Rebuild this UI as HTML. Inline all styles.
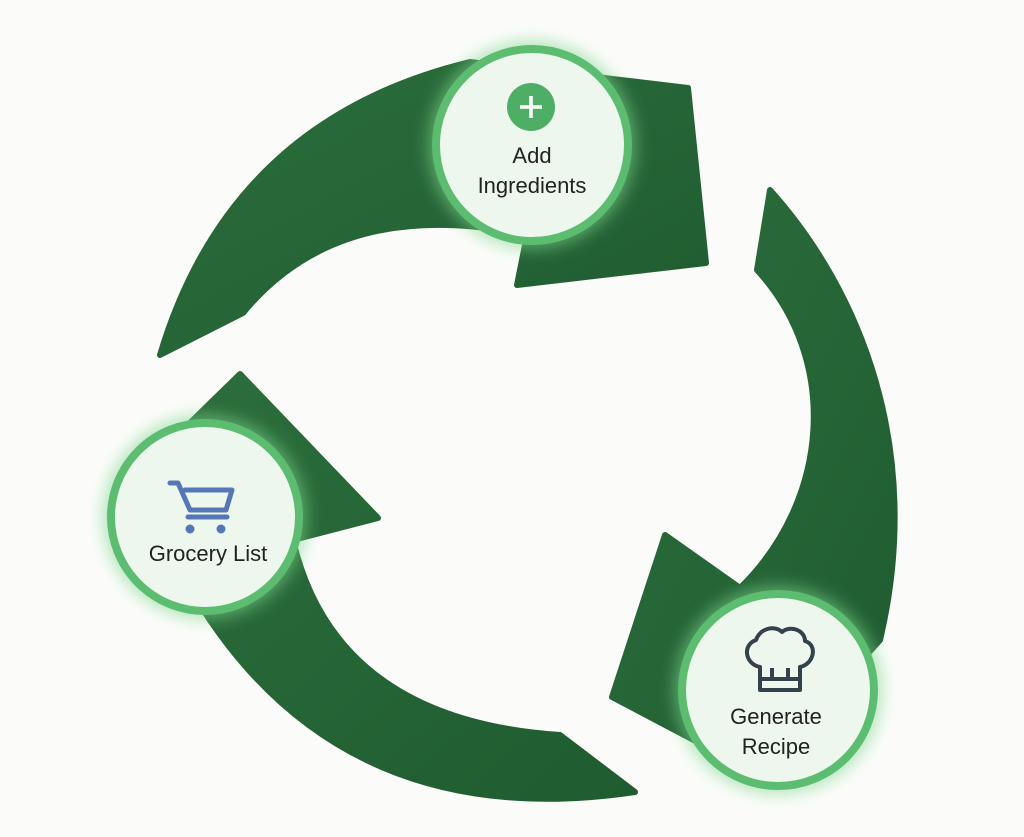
<!DOCTYPE html>
<html><head><style>
html,body{margin:0;padding:0;background:#fbfcf9;}
svg{display:block}
text{font-family:"Liberation Sans",sans-serif;fill:#222;}
</style></head><body>
<svg width="1024" height="837" viewBox="0 0 1024 837">
<defs>
<filter id="g" x="-30%" y="-30%" width="160%" height="160%"><feGaussianBlur stdDeviation="8"/></filter>
<linearGradient id="ag" x1="0" y1="0" x2="1" y2="1"><stop offset="0" stop-color="#2c6e3c"/><stop offset="1" stop-color="#1f5c30"/></linearGradient>
</defs>
<g fill="url(#ag)" stroke="url(#ag)" stroke-width="6" stroke-linejoin="round">
<path d="M160,355 Q 230,120 470,62 L 688,88 L 706,263 L 517,285 L 527,235 Q 340,195 243,313 Z"/>
<path d="M770,190 C 860,290 925,450 880,640 L 760,775 L 612,697 L 665,535 L 740,588 C 830,500 840,360 757,270 Z"/>
<path d="M635,792 Q 345,835 200,605 L 150,462 L 240,374 L 378,518 L 293,540 Q 335,720 560,735 Z"/>
</g>
<g>
<circle cx="532" cy="145" r="104" fill="#7fd68f" opacity="0.6" filter="url(#g)"/>
<circle cx="205" cy="517" r="102" fill="#7fd68f" opacity="0.6" filter="url(#g)"/>
<circle cx="778" cy="690" r="104" fill="#7fd68f" opacity="0.6" filter="url(#g)"/>
<circle cx="532" cy="145" r="96" fill="#eef7ee" stroke="#5cbd70" stroke-width="8"/>
<circle cx="205" cy="517" r="94" fill="#eef7ee" stroke="#5cbd70" stroke-width="8"/>
<circle cx="778" cy="690" r="96" fill="#eef7ee" stroke="#5cbd70" stroke-width="8"/>
</g>
<circle cx="531" cy="107" r="24" fill="#4fae66"/>
<path d="M531,96 V118 M520,107 H542" stroke="#fff" stroke-width="3.5"/>
<text x="532" y="163" font-size="22" text-anchor="middle">Add</text>
<text x="532" y="193" font-size="22" text-anchor="middle">Ingredients</text>
<g stroke="#5577b8" stroke-width="5" fill="none" stroke-linecap="round" stroke-linejoin="round">
<path d="M170,483 H178 L190,510 H226 L232,490 H185"/>
<path d="M188,517 H227"/>
</g>
<circle cx="190" cy="529" r="4.5" fill="#5577b8"/><circle cx="221" cy="529" r="4.5" fill="#5577b8"/>
<text x="208" y="561" font-size="22" text-anchor="middle">Grocery List</text>
<g stroke="#33414a" stroke-width="4" fill="none" stroke-linejoin="round">
<path d="M760,667 C745,664 742,645 756,640 C760,628 775,625 782,632 C790,625 805,630 805,641 C818,645 814,664 800,667 V690 H760 Z"/>
<path d="M760,679 H800 M772,668 V679 M788,668 V679"/>
</g>
<text x="776" y="724" font-size="22" text-anchor="middle">Generate</text>
<text x="776" y="754" font-size="22" text-anchor="middle">Recipe</text>
</svg>
</body></html>
